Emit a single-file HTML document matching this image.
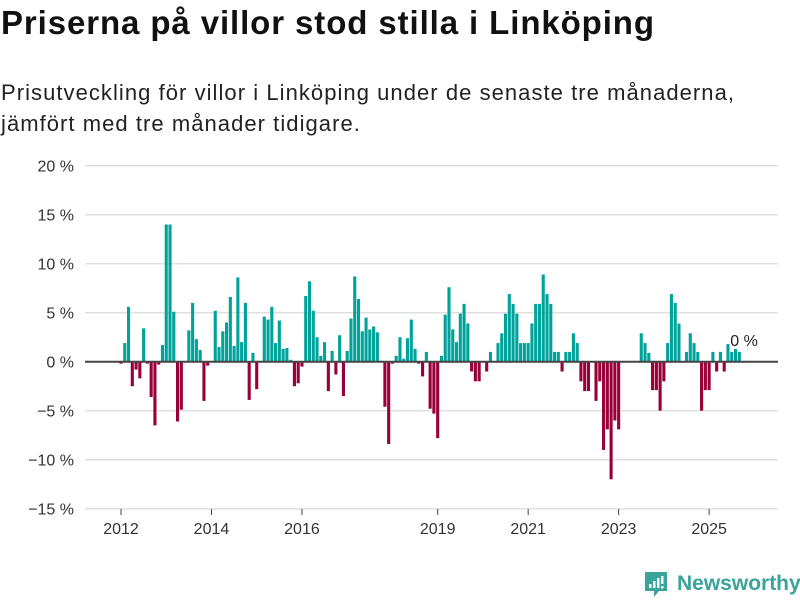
<!DOCTYPE html>
<html><head><meta charset="utf-8">
<style>
body{margin:0;width:800px;height:600px;background:#fff;font-family:"Liberation Sans",sans-serif;overflow:hidden;position:relative}
#title{position:absolute;left:1px;top:4px;font-size:33px;font-weight:bold;color:#111;margin:0;letter-spacing:0.9px;white-space:nowrap}
#sub{position:absolute;left:1px;top:77px;font-size:22px;line-height:31px;color:#222;margin:0;letter-spacing:1.05px;white-space:nowrap}
svg{position:absolute;left:0;top:0}
</style></head><body>
<h1 id="title">Priserna på villor stod stilla i Linköping</h1>
<p id="sub">Prisutveckling för villor i Linköping under de senaste tre månaderna,<br>jämfört med tre månader tidigare.</p>
<svg id="chart" width="800" height="600"></svg>
<script>
const values=[-0.2,1.9,5.6,-2.5,-0.8,-1.7,3.4,-0.2,-3.6,-6.5,-0.3,1.7,14,14,5.1,-6.1,-4.9,0,3.2,6.0,2.3,1.2,-4.0,-0.4,0,5.2,1.5,3.1,4.0,6.6,1.6,8.6,2.0,6.0,-3.9,0.9,-2.8,0,4.6,4.3,5.6,1.9,4.2,1.3,1.4,0.2,-2.5,-2.2,-0.5,6.7,8.2,5.2,2.5,0.6,2.0,-3.0,1.1,-1.3,2.7,-3.5,1.1,4.4,8.7,6.4,3.1,4.5,3.3,3.6,3.0,0.1,-4.6,-8.4,-0.2,0.6,2.5,0.3,2.4,4.3,1.3,-0.2,-1.5,1.0,-4.8,-5.3,-7.8,0.6,4.8,7.6,3.3,2.0,4.9,5.9,3.9,-1.0,-2.0,-2.0,0,-1.0,1.0,0,1.9,2.9,4.9,6.9,5.9,4.9,1.9,1.9,1.9,3.9,5.9,5.9,8.9,6.9,5.9,1.0,1.0,-1.0,1.0,1.0,2.9,1.9,-2.0,-3.0,-3.0,0,-4.0,-2.0,-9.0,-6.9,-12,-6.0,-6.9,0,0,0,0,0,2.9,1.9,0.9,-2.9,-2.9,-5.0,-2.0,1.9,6.9,6.0,3.9,0,1.0,2.9,1.9,1.0,-5.0,-2.9,-2.9,1.0,-1.0,1.0,-1.0,1.8,1.0,1.3,1.0];
const yTicks=[20,15,10,5,0,-5,-10,-15];
const yTickLabels=["20 %","15 %","10 %","5 %","0 %","−5 %","−10 %","−15 %"];
const xYears=[2012,2014,2016,2019,2021,2023,2025];
const lastLabel="0 %";
const NS="http://www.w3.org/2000/svg";
const svg=document.getElementById('chart');
const y=v=>361.7-v*9.8;
const x=i=>121+i*3.77;
const L=85,R=778;
function mk(t,a){const e=document.createElementNS(NS,t);for(const k in a)e.setAttribute(k,a[k]);svg.appendChild(e);return e;}
yTicks.forEach((t,k)=>{
  if(t!==0){const g=mk('line',{x1:L,x2:R,y1:y(t),y2:y(t),stroke:'#e0e0e0','stroke-width':1.5});
  
  }
  const tx=mk('text',{x:74,y:y(t)+6,'text-anchor':'end','font-size':16,fill:'#333','font-family':'Liberation Sans, sans-serif'});
  tx.textContent=yTickLabels[k];
  
  
});
values.forEach((v,i)=>{
  const r=mk('rect',{x:x(i)-1.55,width:3.1,y:Math.min(y(v),y(0)),height:Math.abs(y(v)-y(0)),fill:v>=0?'#00a39a':'#990039'});
  
  
});
const z=mk('line',{x1:L,x2:R,y1:y(0),y2:y(0),stroke:'#444','stroke-width':2});


xYears.forEach(yr=>{
  const xi=x((yr-2012)*12);
  const tk=mk('line',{x1:xi,x2:xi,y1:509,y2:515,stroke:'#444','stroke-width':1});
  
  
  const t=mk('text',{x:xi,y:534,'text-anchor':'middle','font-size':16,fill:'#333','font-family':'Liberation Sans, sans-serif'});
  t.textContent=yr;
  
  
});
const al=mk('text',{x:x(values.length-1)-9,y:346,'font-size':16,fill:'#222','font-family':'Liberation Sans, sans-serif'});
al.textContent=lastLabel;


</script>
<svg width="800" height="600" style="pointer-events:none">
<path d="M645 572h22v19h-8l-5 6v-6h-9z" fill="#3aa39a"/>
<rect x="649" y="584" width="2.5" height="4" fill="#fff"/><rect x="653" y="581" width="2.5" height="7" fill="#fff"/><rect x="657" y="578" width="2.5" height="10" fill="#fff"/><rect x="661" y="576" width="2.5" height="8" fill="#fff"/><rect x="661" y="586" width="2.5" height="2.5" fill="#fff"/>
<text x="677" y="590" font-size="21" font-weight="bold" fill="#3aa39a" font-family="Liberation Sans, sans-serif">Newsworthy</text>
</svg>
</body></html>
